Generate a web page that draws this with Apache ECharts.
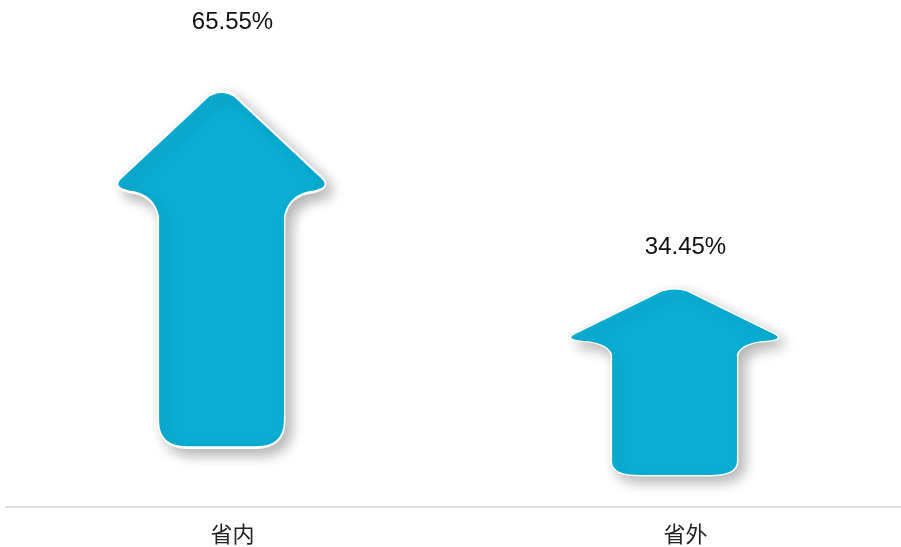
<!DOCTYPE html>
<html>
<head>
<meta charset="utf-8">
<script src="https://cdn.jsdelivr.net/npm/echarts@6/dist/echarts.min.js"></script>
<style>
  html, body { margin: 0; padding: 0; background: #fff; }
  #main { width: 901px; height: 547px; }
</style>
</head>
<body>
<div id="main"></div>
<script>
// 类目
const categories = ["省内", "省外"];
// 占比 (%)
const values = [65.55, 34.45];

// 箭头形状
const arrowPath =
  "path://M92 6 Q104 -2 116 6 L194 84 Q210 98 190 102 Q167 105 163 127 " +
  "L163 330 Q163 357 136 357 L72 357 Q45 357 45 330 L45 127 " +
  "Q41 105 18 102 Q-2 98 14 84 Z";

const chart = echarts.init(document.getElementById("main"));
const option = {
  animation: false,
  grid: { left: 6, right: -11, top: 0, bottom: 40, outerBoundsMode: "none" },
  xAxis: {
    type: "category",
    data: categories,
    axisLine: { lineStyle: { color: "#dcdcdc", width: 2 } },
    axisTick: { show: false },
    axisLabel: {
      margin: 16,
      fontSize: 22,
      color: "#222",
      fontFamily: "Noto Sans CJK SC"
    }
  },
  yAxis: {
    type: "value",
    min: 0,
    max: 70,
    show: false,
    splitLine: { show: false }
  },
  series: [
    {
      type: "pictorialBar",
      data: values,
      symbol: arrowPath,
      symbolSize: [208, "75%"],
      symbolPosition: "center",
      symbolOffset: [-11, 0],
      itemStyle: {
        color: "#0aaed4",
        borderColor: "#fff",
        borderWidth: 3,
        shadowColor: "rgba(0,0,0,0.3)",
        shadowBlur: 14,
        shadowOffsetX: 6,
        shadowOffsetY: 6
      },
      label: {
        show: true,
        position: "top",
        distance: -2,
        fontSize: 24,
        color: "#111",
        fontFamily: "Liberation Sans",
        formatter: (p) => p.value.toFixed(2) + "%"
      }
    }
  ]
};
chart.setOption(option);
</script>
</body>
</html>
